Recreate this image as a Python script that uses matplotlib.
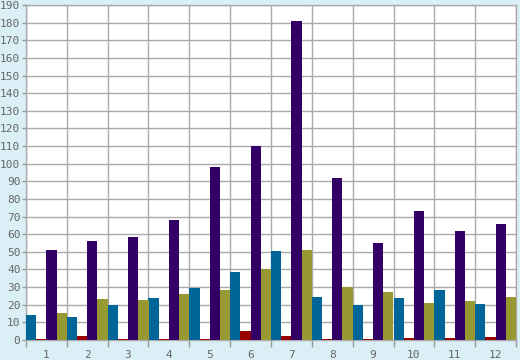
import numpy as np
import matplotlib.pyplot as plt

categories = ["1", "2", "3", "4", "5", "6", "7", "8", "9", "10", "11", "12"]
blue_vals = [14, 13, 19.8, 23.8, 29.4, 38.5, 50.4, 24.3, 19.8, 23.8, 28.3, 20.4]
red_vals = [0.3, 2.3, 0.6, 0.3, 0.6, 5.1, 2.3, 0.6, 0.6, 1.1, 1.1, 1.7]
purple_vals = [51, 56, 58.3, 68, 98, 110, 181.1, 91.7, 54.9, 73, 61.7, 65.6]
olive_vals = [15.3, 23.2, 22.8, 26, 28.3, 40.2, 51, 30, 27.2, 21, 22, 24.3]

series = [blue_vals, red_vals, purple_vals, olive_vals]
colors = ["#006699", "#990000", "#330066", "#999933"]

fig = plt.figure(figsize=(5.2, 3.6), dpi=100, facecolor="#daeff6")
ax = fig.add_axes([26 / 520, 1 - 340 / 360, 490 / 520, 335 / 360])
ax.set_facecolor("white")

x = np.arange(len(categories))
w = 0.25
for k, (vals, c) in enumerate(zip(series, colors)):
    ax.bar(x - 0.375 + k * w, vals, width=w, color=c, zorder=3, linewidth=0)

ax.set_xlim(-0.5, len(categories) - 0.5)
ax.set_ylim(0, 190)
ax.set_yticks(range(0, 191, 10))
ax.set_xticks(x)
ax.set_xticklabels(categories)
ax.set_xticks(np.arange(-0.5, len(categories), 1), minor=True)

ax.grid(True, which="minor", axis="x", color="#aaaaaa", linewidth=1, zorder=1)
ax.grid(True, which="major", axis="y", color="#aaaaaa", linewidth=1, zorder=1)

txt = "#666666"
ax.tick_params(axis="x", which="major", length=0, pad=7, labelsize=8,
               labelcolor=txt)
ax.tick_params(axis="x", which="minor", length=5, color="#999999", width=1)
ax.tick_params(axis="y", length=3, color="#999999", width=1, pad=1,
               labelsize=8, labelcolor=txt)
for lab in ax.get_xticklabels() + ax.get_yticklabels():
    lab.set_family("DejaVu Sans Mono")

for s in ax.spines.values():
    s.set_color("#aaaaaa")
    s.set_linewidth(1)

fig.savefig("out.png", dpi=100, facecolor=fig.get_facecolor())
